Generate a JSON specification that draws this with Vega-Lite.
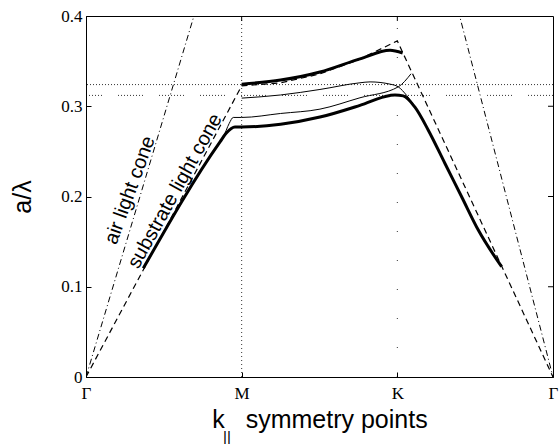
{
  "$schema": "https://vega.github.io/schema/vega-lite/v6.json",
  "width": 467,
  "height": 361,
  "autosize": "none",
  "padding": {"left": 86, "top": 16, "right": 6, "bottom": 67},
  "config": {
    "view": {"stroke": "black", "strokeWidth": 1},
    "font": "Liberation Sans",
    "axis": {"domainColor": "black", "tickColor": "black", "labelColor": "black", "titleColor": "black", "grid": false, "titleFontWeight": "normal"}
  },
  "datasets": {
    "curves": [
      {"s": "air", "x": 0, "y": 0},
      {"s": "air", "x": 1, "y": 0.577},
      {"s": "air", "x": 2, "y": 0.667},
      {"s": "air", "x": 3, "y": 0},
      {"s": "sub", "x": 0, "y": 0},
      {"s": "sub", "x": 1, "y": 0.3226},
      {"s": "sub", "x": 1.25, "y": 0.3259},
      {"s": "sub", "x": 1.5, "y": 0.3357},
      {"s": "sub", "x": 1.75, "y": 0.3515},
      {"s": "sub", "x": 2, "y": 0.3724},
      {"s": "sub", "x": 3, "y": 0},
      {"s": "b1", "x": 0.368, "y": 0.1204},
      {"s": "b1", "x": 0.861, "y": 0.2606},
      {"s": "b1", "x": 0.9, "y": 0.27},
      {"s": "b1", "x": 0.957, "y": 0.277},
      {"s": "b1", "x": 1.0, "y": 0.277},
      {"s": "b1", "x": 1.25, "y": 0.28},
      {"s": "b1", "x": 1.503, "y": 0.288},
      {"s": "b1", "x": 1.76, "y": 0.301},
      {"s": "b1", "x": 1.953, "y": 0.312},
      {"s": "b1", "x": 1.985, "y": 0.3125},
      {"s": "b1", "x": 2.038, "y": 0.3115},
      {"s": "b1", "x": 2.113, "y": 0.299},
      {"s": "b1", "x": 2.199, "y": 0.2735},
      {"s": "b1", "x": 2.306, "y": 0.2366},
      {"s": "b1", "x": 2.413, "y": 0.1997},
      {"s": "b1", "x": 2.52, "y": 0.1628},
      {"s": "b1", "x": 2.67, "y": 0.1222},
      {"s": "b4", "x": 1.0, "y": 0.3245},
      {"s": "b4", "x": 1.25, "y": 0.329},
      {"s": "b4", "x": 1.503, "y": 0.338},
      {"s": "b4", "x": 1.76, "y": 0.3525},
      {"s": "b4", "x": 1.953, "y": 0.362},
      {"s": "b4", "x": 2.034, "y": 0.359},
      {"s": "b2", "x": 0.861, "y": 0.2606},
      {"s": "b2", "x": 0.882, "y": 0.266},
      {"s": "b2", "x": 0.92, "y": 0.281},
      {"s": "b2", "x": 0.946, "y": 0.2876},
      {"s": "b2", "x": 1.0, "y": 0.2876},
      {"s": "b2", "x": 1.25, "y": 0.292},
      {"s": "b2", "x": 1.503, "y": 0.2968},
      {"s": "b2", "x": 1.76, "y": 0.3094},
      {"s": "b2", "x": 2.006, "y": 0.3215},
      {"s": "b2", "x": 2.088, "y": 0.336},
      {"s": "b3", "x": 1.0, "y": 0.309},
      {"s": "b3", "x": 1.25, "y": 0.3125},
      {"s": "b3", "x": 1.503, "y": 0.3186},
      {"s": "b3", "x": 1.76, "y": 0.326},
      {"s": "b3", "x": 1.825, "y": 0.327},
      {"s": "b3", "x": 1.953, "y": 0.3245},
      {"s": "b3", "x": 2.006, "y": 0.3215},
      {"s": "b3", "x": 2.06, "y": 0.312},
      {"s": "b3", "x": 2.1, "y": 0.303}
    ],
    "vlines": [{"k": "M", "v": 1}, {"k": "K", "v": 2}],
    "hlines": [{"k": "upper", "h": 0.324}, {"k": "lower", "h": 0.312}],
    "rightticks": [{"t": 0.1}, {"t": 0.2}, {"t": 0.3}],
    "topticks": [{"t": 1}, {"t": 2}],
    "notes": [
      {"label": "air light cone", "x": 0.283, "y": 0.207},
      {"label": "substrate light cone", "x": 0.572, "y": 0.206},
      {"label": "||", "x": 0.905, "y": -0.066}
    ]
  },
  "layer": [
    {
      "data": {"name": "vlines"},
      "transform": [{"filter": "datum.k == 'M'"}],
      "mark": {"type": "rule", "color": "black", "strokeWidth": 0.8, "strokeDash": [1, 3]},
      "encoding": {
        "x": {"field": "v", "type": "quantitative", "scale": {"domain": [0, 3], "nice": false, "zero": false},
          "axis": {"orient": "bottom", "values": [0, 1, 2, 3], "labelExpr": "datum.value == 1 ? 'M' : datum.value == 2 ? 'K' : 'Γ'",
            "labelFont": "Liberation Serif", "labelFontSize": 17, "tickSize": -5, "labelPadding": 13, "labelFlush": false, "labelOverlap": false, "labelBound": false,
            "title": "k\u00a0\u00a0\u00a0symmetry points", "titleFontSize": 25, "titlePadding": 6}},
        "y": {"datum": 0, "type": "quantitative", "scale": {"domain": [0, 0.4], "nice": false},
          "axis": {"orient": "left", "values": [0, 0.1, 0.2, 0.3, 0.4], "format": ".1~f", "labelFont": "Liberation Serif", "labelFontSize": 17,
            "tickSize": -5, "labelPadding": 9, "labelFlush": false, "labelOverlap": false, "labelBound": false,
            "title": "a/λ", "titleFontSize": 25, "titlePadding": 25}},
        "y2": {"datum": 0.4}
      }
    },
    {
      "data": {"name": "vlines"},
      "transform": [{"filter": "datum.k == 'K'"}],
      "mark": {"type": "rule", "color": "black", "strokeWidth": 0.8, "strokeDash": [1, 28]},
      "encoding": {"x": {"field": "v", "type": "quantitative"}, "y": {"datum": 0, "type": "quantitative"}, "y2": {"datum": 0.4}}
    },
    {
      "data": {"name": "hlines"},
      "transform": [{"filter": "datum.k == 'upper'"}],
      "mark": {"type": "rule", "color": "black", "strokeWidth": 0.8, "strokeDash": [1, 2]},
      "encoding": {"y": {"field": "h", "type": "quantitative"}}
    },
    {
      "data": {"name": "hlines"},
      "transform": [{"filter": "datum.k == 'lower'"}],
      "mark": {"type": "rule", "color": "black", "strokeWidth": 0.8, "strokeDash": [1, 2, 1, 2, 1, 2, 1, 2, 1, 2, 1, 2, 1, 2, 1, 2, 1, 16]},
      "encoding": {"y": {"field": "h", "type": "quantitative"}}
    },
    {
      "data": {"name": "rightticks"},
      "mark": {"type": "rule", "color": "black", "strokeWidth": 1},
      "encoding": {"y": {"field": "t", "type": "quantitative"}, "x": {"datum": 2.968, "type": "quantitative"}, "x2": {"datum": 3}}
    },
    {
      "data": {"name": "topticks"},
      "mark": {"type": "rule", "color": "black", "strokeWidth": 1},
      "encoding": {"x": {"field": "t", "type": "quantitative"}, "y": {"datum": 0.3945, "type": "quantitative"}, "y2": {"datum": 0.4}}
    },
    {
      "data": {"name": "curves"},
      "transform": [{"filter": "datum.s == 'air'"}],
      "mark": {"type": "line", "color": "black", "strokeWidth": 1, "strokeDash": [6, 3, 1, 3], "clip": true},
      "encoding": {"x": {"field": "x", "type": "quantitative"}, "y": {"field": "y", "type": "quantitative"}}
    },
    {
      "data": {"name": "curves"},
      "transform": [{"filter": "datum.s == 'sub'"}],
      "mark": {"type": "line", "color": "black", "strokeWidth": 1.2, "strokeDash": [6, 4], "clip": true},
      "encoding": {"x": {"field": "x", "type": "quantitative"}, "y": {"field": "y", "type": "quantitative"}}
    },
    {
      "data": {"name": "curves"},
      "transform": [{"filter": "datum.s == 'b2' || datum.s == 'b3'"}],
      "mark": {"type": "line", "color": "black", "strokeWidth": 1, "interpolate": "monotone", "clip": true},
      "encoding": {"x": {"field": "x", "type": "quantitative"}, "y": {"field": "y", "type": "quantitative"}, "detail": {"field": "s"}}
    },
    {
      "data": {"name": "curves"},
      "transform": [{"filter": "datum.s == 'b1' || datum.s == 'b4'"}],
      "mark": {"type": "line", "color": "black", "strokeWidth": 3, "interpolate": "monotone", "clip": true},
      "encoding": {"x": {"field": "x", "type": "quantitative"}, "y": {"field": "y", "type": "quantitative"}, "detail": {"field": "s"}}
    },
    {
      "data": {"name": "notes"},
      "transform": [{"filter": "datum.label == 'air light cone'"}],
      "mark": {"type": "text", "angle": 290, "fontSize": 20, "font": "Liberation Sans", "color": "black", "align": "center", "baseline": "middle"},
      "encoding": {"x": {"field": "x", "type": "quantitative"}, "y": {"field": "y", "type": "quantitative"}, "text": {"field": "label"}}
    },
    {
      "data": {"name": "notes"},
      "transform": [{"filter": "datum.label == 'substrate light cone'"}],
      "mark": {"type": "text", "angle": 299, "fontSize": 20, "font": "Liberation Sans", "color": "black", "align": "center", "baseline": "middle"},
      "encoding": {"x": {"field": "x", "type": "quantitative"}, "y": {"field": "y", "type": "quantitative"}, "text": {"field": "label"}}
    },
    {
      "data": {"name": "notes"},
      "transform": [{"filter": "datum.label == '||'"}],
      "mark": {"type": "text", "fontSize": 15, "font": "Liberation Sans", "color": "black", "fill": "black", "align": "center", "baseline": "middle", "clip": false},
      "encoding": {"x": {"field": "x", "type": "quantitative"}, "y": {"field": "y", "type": "quantitative"}, "text": {"field": "label"}}
    }
  ]
}
